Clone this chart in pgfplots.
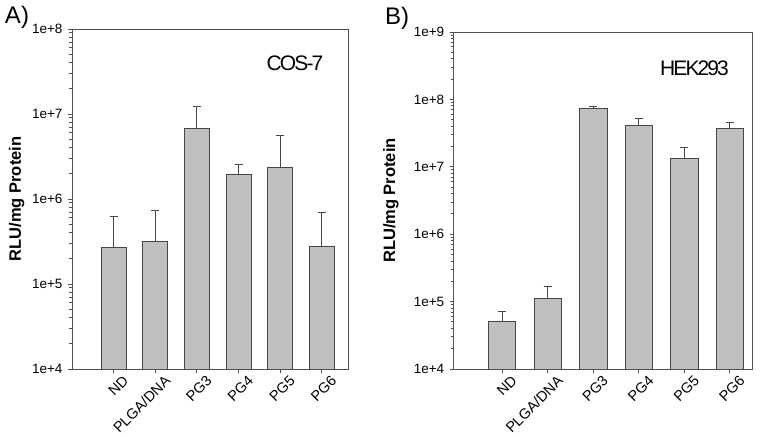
\documentclass[border=0pt]{standalone}
\usepackage{pgfplots}
\pgfplotsset{compat=1.18}
\usepackage{fontspec}
\setmainfont{Liberation Sans}
\definecolor{barfill}{RGB}{192,192,192}
\definecolor{baredge}{RGB}{70,70,70}
\definecolor{frame}{RGB}{80,80,80}
\pgfplotsset{
  /pgfplots/mystyle/.style={
    scale only axis,
    ybar, bar width=0.6,
    axis line style={frame, line width=0.9pt},
    tick style={frame, line width=0.9pt},
    major tick length=4pt,
    tick align=outside,
    xtick pos=bottom, ytick pos=left,
    xtick={1,2,3,4,5,6},
    xticklabels={ND,PLGA/DNA,PG3,PG4,PG5,PG6},
    x tick label style={rotate=45, anchor=north east, font=\fontsize{14.5}{16}\selectfont, inner sep=0pt, xshift=5pt, yshift=-7pt},
    y tick label style={font=\fontsize{13.5}{15}\selectfont, xshift=-2pt},
    ylabel={\textbf{RLU/mg Protein}},
    ylabel style={font=\fontsize{16.5}{18}\selectfont},
  }
}
\begin{document}
\begin{tikzpicture}
\useasboundingbox (0,0) rectangle (764pt,438pt);
\begin{axis}[mystyle,
  ymode=log, log origin=infty,
  at={(72pt,69pt)}, anchor=south west,
  width=276pt, height=340pt,
  xmin=0, xmax=6.63,
  ymin=1e4, ymax=1e8,
  ytick={1e4,1e5,1e6,1e7,1e8},
  minor ytick={},
  yticklabels={1e+4,1e+5,1e+6,1e+7,1e+8},
  ylabel style={at={(axis description cs:-0.201,0.5)}, anchor=center},
]
\addplot[fill=barfill, draw=baredge, line width=0.9pt,
  error bars/.cd, y dir=plus, y explicit,
  error mark options={rotate=90, mark size=4pt, line width=0.9pt, draw=baredge},
  error bar style={line width=0.9pt, draw=baredge}] coordinates {
  (1,2.67e5) +- (0,3.63e5)
  (2,3.15e5) +- (0,4.15e5)
  (3,6.8e6) +- (0,5.4e6)
  (4,1.97e6) +- (0,5.6e5)
  (5,2.33e6) +- (0,3.33e6)
  (6,2.8e5) +- (0,4.2e5)
};
\end{axis}
\begin{axis}[mystyle,
  ymode=log, log origin=infty,
  at={(453.7pt,69pt)}, anchor=south west,
  width=299pt, height=337pt,
  xmin=-0.065, xmax=6.5,
  ymin=1e4, ymax=1e9,
  ytick={1e4,1e5,1e6,1e7,1e8,1e9},
  minor ytick={},
  yticklabels={1e+4,1e+5,1e+6,1e+7,1e+8,1e+9},
  ylabel style={at={(axis description cs:-0.21,0.5)}, anchor=center},
]
\addplot[fill=barfill, draw=baredge, line width=0.9pt,
  error bars/.cd, y dir=plus, y explicit,
  error mark options={rotate=90, mark size=4pt, line width=0.9pt, draw=baredge},
  error bar style={line width=0.9pt, draw=baredge}] coordinates {
  (1,5.15e4) +- (0,2.05e4)
  (2,1.12e5) +- (0,5.3e4)
  (3,7.4e7) +- (0,5e6)
  (4,4.13e7) +- (0,1.04e7)
  (5,1.35e7) +- (0,5.7e6)
  (6,3.68e7) +- (0,9.4e6)
};
\end{axis}
\node[font=\fontsize{24}{26}\selectfont] at (17pt,421pt) {A)};
\node[font=\fontsize{24}{26}\selectfont] at (397pt,420pt) {B)};
\node[font=\fontsize{21}{23}\selectfont\addfontfeature{LetterSpace=-9}] at (295pt,375pt) {COS-7};
\node[font=\fontsize{21}{23}\selectfont\addfontfeature{LetterSpace=-9}] at (694.5pt,370pt) {HEK293};
\end{tikzpicture}
\end{document}
